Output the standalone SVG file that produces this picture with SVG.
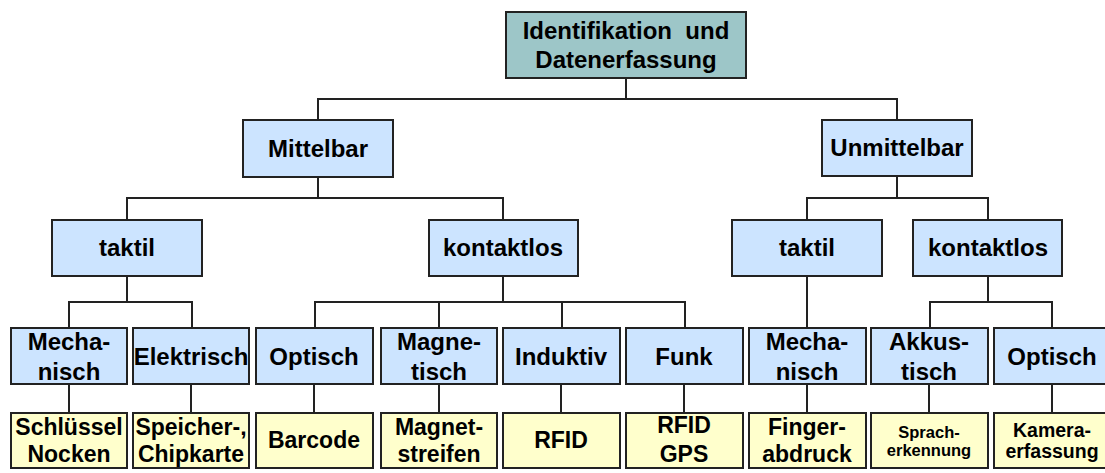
<svg xmlns="http://www.w3.org/2000/svg" width="1105" height="473" viewBox="0 0 1105 473">
<style>
.b{stroke:#222;stroke-width:2}
.top{fill:#9dc6c8}
.blue{fill:#cce4ff}
.yel{fill:#ffffcc}
text{font-family:"Liberation Sans",Arial,sans-serif;font-weight:bold;fill:#000;text-anchor:middle}
.t23{font-size:24px}
.t22{font-size:23px}
.t19{font-size:19.5px}
.t16{font-size:16.5px}
.c{stroke:#222;stroke-width:2;fill:none}
</style>
<rect width="1105" height="473" fill="#fff"/>
<g id="connectors" class="c">
<path d="M626 78V99M318 120V99H897V120"/>
<path d="M318 177V198M127 220V198H503V220"/>
<path d="M897 176V198M807 220V198H988V220"/>
<path d="M127 276V302M69 328V302H192V328"/>
<path d="M503 276V302M315 328V302H685V328M439 302V328M562 302V328"/>
<path d="M807 276V328"/>
<path d="M988 276V302M930 328V302H1052V328"/>
<path d="M69 384V413M191 384V413M314 384V413M439 384V413M561 384V413M684 384V413M807 384V413M929 384V413M1052 384V413"/>
</g>
<g id="root"><rect class="b top" x="506" y="12" width="240" height="66"/><text class="t23" x="626" y="39" xml:space="preserve">Identifikation  und</text><text class="t23" x="626" y="68">Datenerfassung</text></g>
<g id="mittelbar"><rect class="b blue" x="243" y="120" width="150" height="57"/><text class="t23" x="318" y="157">Mittelbar</text></g>
<g id="unmittelbar"><rect class="b blue" x="822" y="120" width="150" height="56"/><text class="t23" x="897" y="156">Unmittelbar</text></g>
<g id="taktil1"><rect class="b blue" x="52" y="220" width="150" height="56"/><text class="t23" x="127" y="256">taktil</text></g>
<g id="kontaktlos1"><rect class="b blue" x="429" y="220" width="149" height="56"/><text class="t23" x="503" y="256">kontaktlos</text></g>
<g id="taktil2"><rect class="b blue" x="732" y="220" width="150" height="56"/><text class="t23" x="807" y="256">taktil</text></g>
<g id="kontaktlos2"><rect class="b blue" x="913" y="220" width="149" height="56"/><text class="t23" x="988" y="256">kontaktlos</text></g>
<g id="mechanisch1"><rect class="b blue" x="11" y="328" width="116" height="56"/><text class="t23" x="69" y="350">Mecha-</text><text class="t23" x="69" y="380">nisch</text></g>
<g id="elektrisch"><rect class="b blue" x="133" y="328" width="116" height="56"/><text class="t23" x="191" y="365">Elektrisch</text></g>
<g id="optisch1"><rect class="b blue" x="256" y="328" width="117" height="56"/><text class="t23" x="314" y="365">Optisch</text></g>
<g id="magnetisch"><rect class="b blue" x="381" y="328" width="116" height="56"/><text class="t23" x="439" y="350">Magne-</text><text class="t23" x="439" y="380">tisch</text></g>
<g id="induktiv"><rect class="b blue" x="503" y="328" width="117" height="56"/><text class="t23" x="561" y="365">Induktiv</text></g>
<g id="funk"><rect class="b blue" x="626" y="328" width="117" height="56"/><text class="t23" x="684" y="365">Funk</text></g>
<g id="mechanisch2"><rect class="b blue" x="749" y="328" width="117" height="56"/><text class="t23" x="807" y="350">Mecha-</text><text class="t23" x="807" y="380">nisch</text></g>
<g id="akkustisch"><rect class="b blue" x="871" y="328" width="117" height="56"/><text class="t23" x="929" y="350">Akkus-</text><text class="t23" x="929" y="380">tisch</text></g>
<g id="optisch2"><rect class="b blue" x="994" y="328" width="117" height="56"/><text class="t23" x="1052" y="365">Optisch</text></g>
<g id="schluessel"><rect class="b yel" x="11" y="413" width="116" height="55"/><text class="t22" x="69" y="435">Schlüssel</text><text class="t22" x="69" y="462">Nocken</text></g>
<g id="speicher"><rect class="b yel" x="133" y="413" width="116" height="55"/><text class="t22" x="191" y="435">Speicher-,</text><text class="t22" x="191" y="462">Chipkarte</text></g>
<g id="barcode"><rect class="b yel" x="256" y="413" width="117" height="55"/><text class="t22" x="314" y="448">Barcode</text></g>
<g id="magnetstreifen"><rect class="b yel" x="381" y="413" width="116" height="55"/><text class="t22" x="439" y="435">Magnet-</text><text class="t22" x="439" y="462">streifen</text></g>
<g id="rfid"><rect class="b yel" x="503" y="413" width="117" height="55"/><text class="t22" x="561" y="448">RFID</text></g>
<g id="rfidgps"><rect class="b yel" x="626" y="413" width="117" height="55"/><text class="t22" x="684" y="433">RFID</text><text class="t22" x="684" y="462">GPS</text></g>
<g id="fingerabdruck"><rect class="b yel" x="749" y="413" width="117" height="55"/><text class="t22" x="807" y="435">Finger-</text><text class="t22" x="807" y="462">abdruck</text></g>
<g id="spracherkennung"><rect class="b yel" x="871" y="413" width="117" height="55"/><text class="t16" x="929" y="438">Sprach-</text><text class="t16" x="929" y="456">erkennung</text></g>
<g id="kameraerfassung"><rect class="b yel" x="994" y="413" width="117" height="55"/><text class="t19" x="1052" y="437">Kamera-</text><text class="t19" x="1052" y="458">erfassung</text></g>
</svg>
